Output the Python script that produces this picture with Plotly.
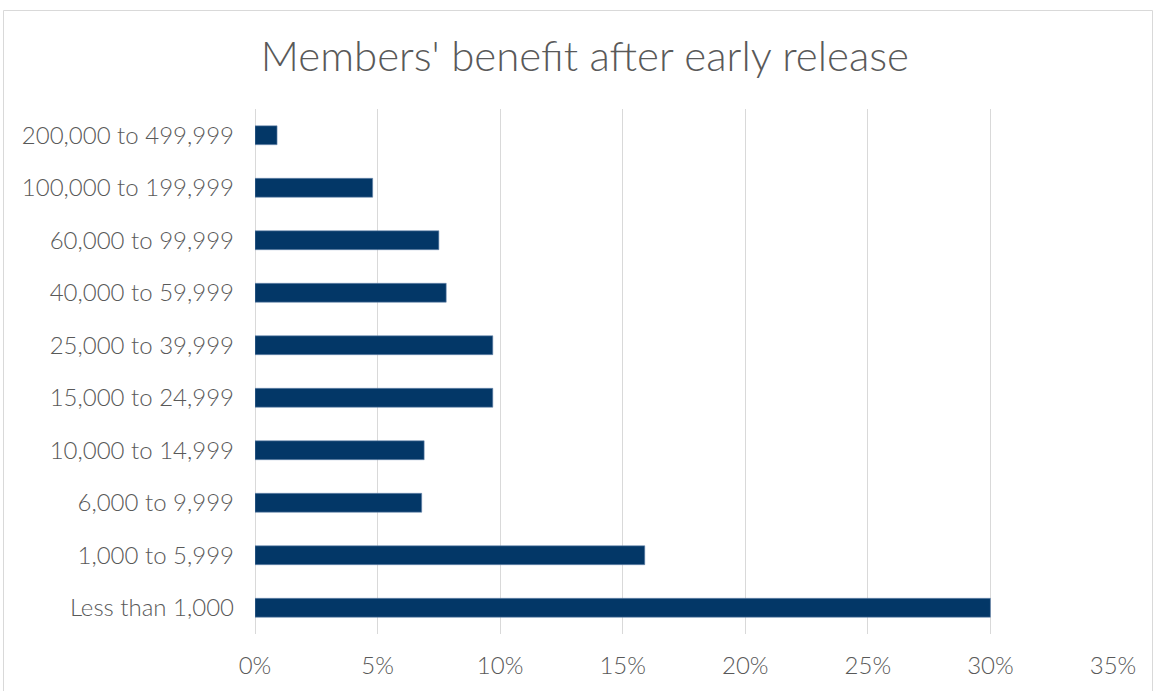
import plotly.graph_objects as go

categories = ["Less than 1,000", "1,000 to 5,999", "6,000 to 9,999", "10,000 to 14,999",
              "15,000 to 24,999", "25,000 to 39,999", "40,000 to 59,999", "60,000 to 99,999",
              "100,000 to 199,999", "200,000 to 499,999"]
shares = [0.300, 0.159, 0.068, 0.069, 0.097, 0.097, 0.078, 0.075, 0.048, 0.009]

W, H = 1156, 691
L, R, T, B = 255, 43, 109, 57
pw, ph = W - L - R, H - T - B

def px(x):
    return (x - L) / pw

def py(y):
    return (H - B - y) / ph

fig = go.Figure(go.Bar(
    x=shares, y=categories, orientation="h",
    marker=dict(color="#033767", line=dict(color="#6d8bb0", width=0.6)),
    width=0.36,
    hoverinfo="skip",
))

fig.update_layout(
    width=W, height=H,
    margin=dict(l=L, r=R, t=T, b=B),
    paper_bgcolor="white", plot_bgcolor="white",
    showlegend=False,
    font=dict(family="Lato, 'Open Sans', sans-serif", color="#595959"),
    title=dict(text="Members' benefit after early release", x=0.506, xref="container",
               xanchor="center",
               y=1 - 56 / H, yanchor="middle", yref="container",
               font=dict(size=42, color="#595959", weight=300)),
    xaxis=dict(range=[0, 0.35], dtick=0.05, tickformat=".0%",
               showgrid=True, gridcolor="#d9d9d9", gridwidth=1.3,
               zeroline=True, zerolinecolor="#d9d9d9", zerolinewidth=1.3,
               showline=False, ticks="",
               tickfont=dict(size=24, color="#595959", weight=300),
               ticklabelstandoff=15, fixedrange=True),
    yaxis=dict(showgrid=False, zeroline=False, showline=False, ticks="",
               tickfont=dict(size=24, color="#595959", weight=300), ticklabelstandoff=20,
               categoryorder="array", categoryarray=categories, fixedrange=True),
    bargap=0.64,
    shapes=[dict(type="rect", xref="paper", yref="paper",
                 x0=px(3.5), x1=px(1152.5), y0=py(705), y1=py(10.5),
                 line=dict(color="#d9d9d9", width=1), fillcolor="rgba(0,0,0,0)",
                 layer="below")],
)

fig.write_html("out.html", config={"displayModeBar": False},
               post_script="document.body.style.margin='0';document.body.style.overflow='hidden';")
